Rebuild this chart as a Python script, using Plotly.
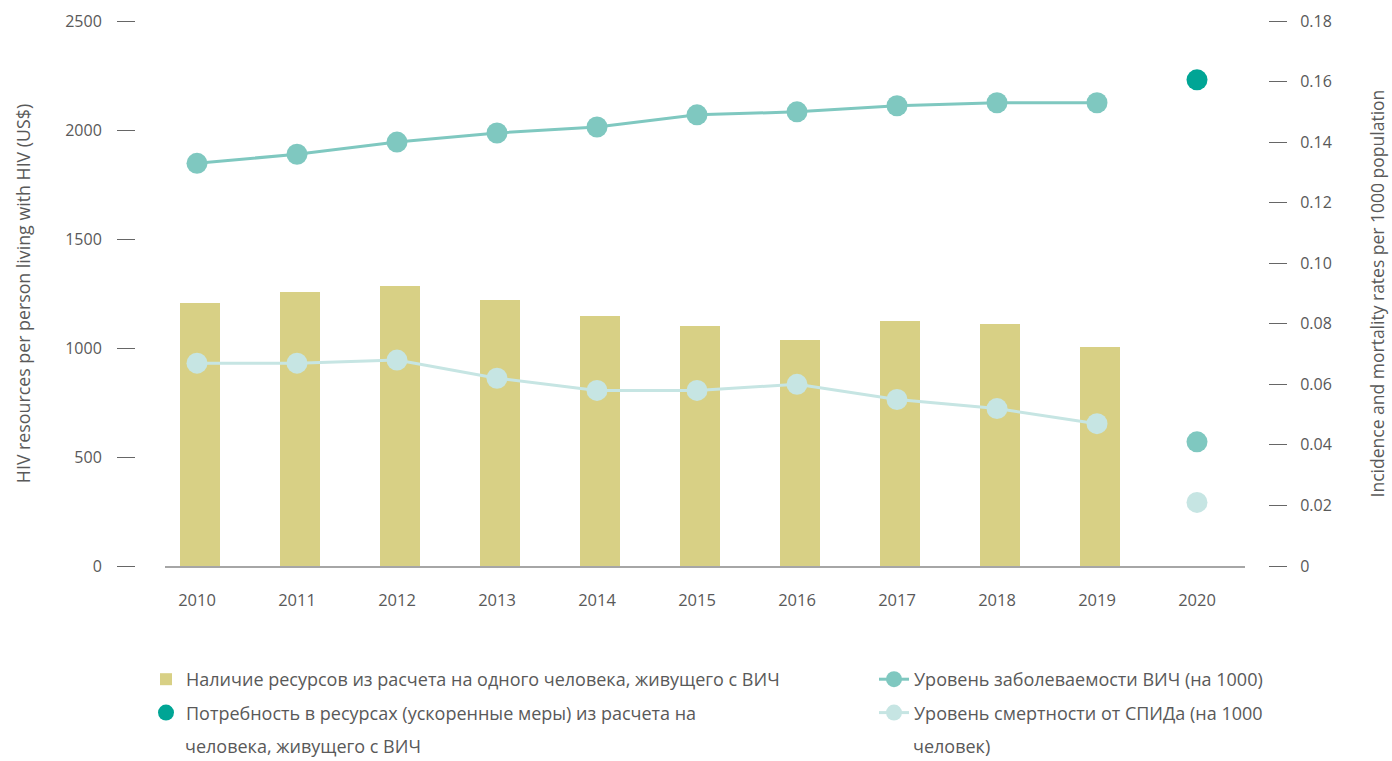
import plotly.graph_objects as go

# --- data -------------------------------------------------------------
years = [2010, 2011, 2012, 2013, 2014, 2015, 2016, 2017, 2018, 2019]
target_year = [2020]

# HIV resources available per person living with HIV (US$)
resources = [1205, 1255, 1285, 1220, 1145, 1100, 1035, 1125, 1112, 1003]
# Fast-Track resource need per person living with HIV, 2020 (US$)
resource_need_2020 = [2230]

# HIV incidence per 1000 population
incidence = [0.133, 0.136, 0.140, 0.143, 0.145, 0.149, 0.150, 0.152, 0.153, 0.153]
incidence_2020 = [0.041]
# AIDS-related mortality per 1000 population
mortality = [0.067, 0.067, 0.068, 0.062, 0.058, 0.058, 0.060, 0.055, 0.052, 0.047]
mortality_2020 = [0.021]

x_ticks = [2010, 2011, 2012, 2013, 2014, 2015, 2016, 2017, 2018, 2019, 2020]
left_ticks = [0, 500, 1000, 1500, 2000, 2500]
right_ticks = [0, 0.02, 0.04, 0.06, 0.08, 0.10, 0.12, 0.14, 0.16, 0.18]
right_labels = ["0", "0.02", "0.04", "0.06", "0.08", "0.10", "0.12", "0.14", "0.16", "0.18"]

name_resources = "Наличие ресурсов из расчета на одного человека, живущего с ВИЧ"
name_need = "Потребность в ресурсах (ускоренные меры) из расчета на"
name_need_cont = "человека, живущего с ВИЧ"
name_incidence = "Уровень заболеваемости ВИЧ (на 1000)"
name_mortality = "Уровень смертности от СПИДа (на 1000"
name_mortality_cont = "человек)"

# --- styling ------------------------------------------------------------
W, H = 1392, 761
FONT = "Open Sans"
TXT = "#595959"
C_BAR = "#d8d085"
C_NEED = "#00a595"
C_INC = "#7fc8c0"
C_MORT = "#c6e5e3"
LEG_SIZE = 18

# plot area in pixels
px_l, px_r, px_t, px_b = 165, 1245, 21, 566

fig = go.Figure()

fig.add_trace(go.Bar(
    x=years, y=resources, name=name_resources,
    marker=dict(color=C_BAR, line=dict(width=0)),
    width=0.4, offset=-0.17,
    yaxis="y", legend="legend", legendgroup="res", legendrank=1,
))
fig.add_trace(go.Scatter(
    x=years, y=mortality, name=name_mortality,
    mode="lines+markers",
    line=dict(color=C_MORT, width=3),
    marker=dict(color=C_MORT, size=21),
    yaxis="y2", legend="legend2", legendgroup="mort", legendrank=4,
))
fig.add_trace(go.Scatter(
    x=target_year, y=mortality_2020, name=name_mortality,
    mode="markers", marker=dict(color=C_MORT, size=21),
    yaxis="y2", showlegend=False, legend="legend2", legendgroup="mort", legendrank=4,
))
fig.add_trace(go.Scatter(
    x=years, y=incidence, name=name_incidence,
    mode="lines+markers",
    line=dict(color=C_INC, width=3),
    marker=dict(color=C_INC, size=21),
    yaxis="y2", legend="legend2", legendgroup="inc", legendrank=3,
))
fig.add_trace(go.Scatter(
    x=target_year, y=incidence_2020, name=name_incidence,
    mode="markers", marker=dict(color=C_INC, size=21),
    yaxis="y2", showlegend=False, legend="legend2", legendgroup="inc", legendrank=3,
))
fig.add_trace(go.Scatter(
    x=target_year, y=resource_need_2020, name=name_need,
    mode="markers", marker=dict(color=C_NEED, size=21),
    yaxis="y", legend="legend", legendgroup="need", legendrank=2,
))

x_dom = [px_l / W, px_r / W]
y_dom = [(H - px_b) / H, (H - px_t) / H]

legend_common = dict(
    orientation="v",
    font=dict(family=FONT, size=LEG_SIZE, color=TXT),
    bgcolor="rgba(0,0,0,0)",
    tracegroupgap=7,
    traceorder="grouped",
    yanchor="top",
    xanchor="left",
    y=(H - 661) / H,
)

fig.update_layout(
    width=W, height=H,
    autosize=False,
    template="none",
    paper_bgcolor="white",
    plot_bgcolor="white",
    margin=dict(l=0, r=0, t=0, b=0),
    font=dict(family=FONT, size=16, color=TXT),
    showlegend=True,
    bargap=0,
    xaxis=dict(
        domain=x_dom,
        range=[2009.68, 2020.48],
        tickmode="array", tickvals=x_ticks,
        ticks="", showgrid=False, zeroline=False,
        showline=True, linecolor="#a6a6a6", linewidth=2,
        tickfont=dict(family=FONT, size=16.5, color=TXT),
        ticklabelstandoff=18,
        anchor="y",
        automargin=False,
    ),
    yaxis=dict(
        domain=y_dom,
        range=[0, 2500],
        tickmode="array", tickvals=left_ticks,
        anchor="free", position=135 / W, side="left",
        ticks="outside", ticklen=18, tickwidth=1, tickcolor="#666666",
        showgrid=False, zeroline=False, showline=False,
        tickfont=dict(family=FONT, size=16, color=TXT),
        ticklabelstandoff=12,
        title=dict(text="HIV resources per person living with HIV (US$)",
                   font=dict(family=FONT, size=17.8, color=TXT), standoff=28),
        automargin=False,
    ),
    yaxis2=dict(
        domain=y_dom,
        range=[0, 0.18],
        tickmode="array", tickvals=right_ticks, ticktext=right_labels,
        overlaying="y", anchor="free", position=1268 / W, side="right",
        ticks="outside", ticklen=18, tickwidth=1, tickcolor="#666666",
        showgrid=False, zeroline=False, showline=False,
        tickfont=dict(family=FONT, size=16, color=TXT),
        ticklabelstandoff=10,
        title=dict(text="Incidence and mortality rates per 1000 population",
                   font=dict(family=FONT, size=17.5, color=TXT), standoff=40),
        automargin=False,
    ),
    legend=dict(legend_common, x=146 / W),
    legend2=dict(legend_common, x=874 / W),
)

# wrapped second lines of the two long legend entries
for txt, xpx in [(name_need_cont, 183), (name_mortality_cont, 911)]:
    fig.add_annotation(
        text=txt, xref="paper", yref="paper",
        x=xpx / W, y=(H - 746) / H,
        xanchor="left", yanchor="middle", showarrow=False,
        font=dict(family=FONT, size=LEG_SIZE, color=TXT),
    )

fig.write_html("out.html")
